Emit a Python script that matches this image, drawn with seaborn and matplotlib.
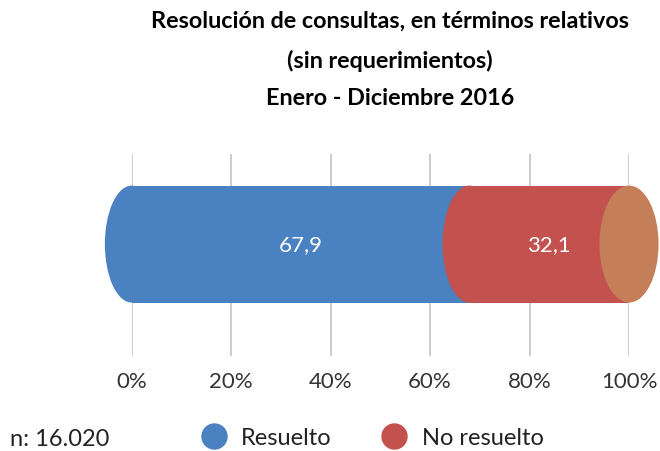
import matplotlib
matplotlib.use("Agg")
import matplotlib.pyplot as plt
import seaborn as sns
from matplotlib.patches import Ellipse
from matplotlib.lines import Line2D

# Data
categories = ["Resuelto", "No resuelto"]
values = [67.9, 32.1]
value_labels = ["67,9", "32,1"]
colors = ["#4A81C0", "#C3514E"]
cap_color = "#C47F58"
tick_values = [0, 20, 40, 60, 80, 100]
tick_labels = ["0%", "20%", "40%", "60%", "80%", "100%"]
n_text = "n: 16.020"
title = "Resolución de consultas, en términos relativos\n(sin requerimientos)\nEnero - Diciembre 2016"

sns.set_theme(style="white")
plt.rcParams["font.family"] = ["Lato", "DejaVu Sans"]

fig = plt.figure(figsize=(6.6, 4.52), dpi=100)
ax = fig.add_axes([131.7 / 660, 95 / 452, (629 - 131.7) / 660, 202 / 452])

# Stacked: draw cumulative totals, largest first
starts = [0, values[0]]
ends = [values[0], values[0] + values[1]]

for i in [1, 0]:
    sns.barplot(x=[ends[i]], y=["total"], color=colors[i], width=1.0,
                orient="h", ax=ax, saturation=1, linewidth=0, zorder=2)

# Cylinder caps
cap_w = 10.8
for i in range(len(values)):
    e = Ellipse((starts[i], 0), cap_w, 1.0, facecolor=colors[i], edgecolor="none",
                zorder=3 + i, clip_on=False)
    ax.add_patch(e)
ax.add_patch(Ellipse((ends[-1], 0), cap_w * 1.1, 1.0, facecolor=cap_color,
                     edgecolor="none", zorder=6, clip_on=False))

# Value labels
for i in range(len(values)):
    ax.text(starts[i] + values[i] / 2, 0, value_labels[i], color="white",
            ha="center", va="center", fontsize=16, zorder=7)

ax.set_xlim(0, 100)
ax.set_ylim(0.957, -0.77)
ax.set_xticks(tick_values)
ax.set_xticklabels(tick_labels, fontsize=16, color="#333333")
ax.set_yticks([])
ax.set_xlabel("")
ax.set_ylabel("")
ax.tick_params(axis="x", length=0, pad=11)
for s in ax.spines.values():
    s.set_visible(False)
ax.grid(axis="x", color="#c8c8c8", linewidth=1.3, zorder=0)
ax.set_axisbelow(True)

fig.text(390 / 660, 1 - 11 / 452, title, ha="center", va="top", fontsize=16.8,
         fontweight="bold", linespacing=1.97, color="black")

fig.text(10 / 660, 12 / 452, n_text, ha="left", va="center", fontsize=17,
         color="#222222")

handles = [Line2D([], [], marker="o", linestyle="", markersize=19,
                  markerfacecolor=c, markeredgecolor="none") for c in colors]
leg = fig.legend(handles, categories, loc="center", bbox_to_anchor=(367 / 660, 13 / 452),
                 ncol=2, frameon=False, fontsize=17, handletextpad=0.15,
                 columnspacing=1.65, borderaxespad=0)
for t in leg.get_texts():
    t.set_color("#222222")

fig.savefig("out.png", dpi=100)
